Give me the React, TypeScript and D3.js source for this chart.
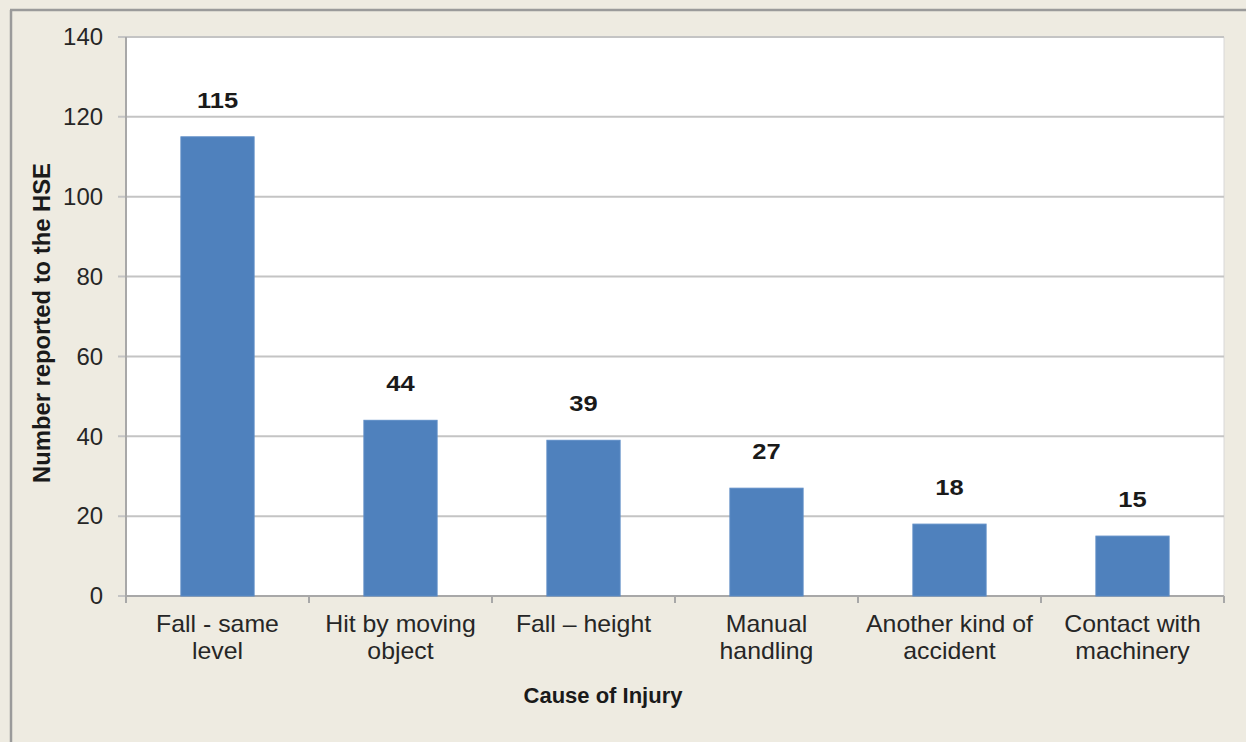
import React from "react";
import * as d3 from "d3";

const categories = [
  ["Fall - same", "level"],
  ["Hit by moving", "object"],
  ["Fall – height"],
  ["Manual", "handling"],
  ["Another kind of", "accident"],
  ["Contact with", "machinery"],
];
const values = [115, 44, 39, 27, 18, 15];
const yTicks = [0, 20, 40, 60, 80, 100, 120, 140];
const yTitle = "Number reported to the HSE";
const xTitle = "Cause of Injury";

export default function App() {
  const W = 1246, H = 742;
  const left = 126, right = 1224, top = 37, bottom = 596;
  const keys = categories.map((_, i) => String(i));
  const x = d3.scaleBand().domain(keys).range([left, right]).paddingInner(0.6).paddingOuter(0.3);
  const step = (right - left) / categories.length;
  const y = d3.scaleLinear().domain([0, 140]).range([bottom, top]);
  const font = "Arial, 'Liberation Sans', sans-serif";
  return (
    <svg width={W} height={H} style={{ position: "absolute", left: 0, top: 0 }}>
      <rect x={0} y={0} width={W} height={H} fill="#EEEBE1" />
      <line x1={10} y1={10} x2={W} y2={10} stroke="#9a9a9a" strokeWidth={2.5} />
      <line x1={11} y1={10} x2={11} y2={H} stroke="#9a9a9a" strokeWidth={2.5} />
      <rect x={left} y={top} width={right - left} height={bottom - top} fill="#FFFFFF" />
      <line x1={right} y1={top} x2={right} y2={bottom} stroke="#d8d8d8" strokeWidth={1} />
      {yTicks.map((t) => (
        <g key={t}>
          <line x1={left - 8} x2={right} y1={y(t)} y2={y(t)} stroke="#c4c4c4" strokeWidth={2} />
          <g transform={`translate(103, ${y(t)}) scale(1.04, 1)`}>
            <text x={0} y={0} dy="0.36em" textAnchor="end" fontFamily={font} fontSize={23} fill="#262626">
              {t}
            </text>
          </g>
        </g>
      ))}
      <line x1={left} x2={left} y1={top} y2={bottom + 6} stroke="#a8a8a8" strokeWidth={2} />
      <line x1={left} x2={right} y1={bottom} y2={bottom} stroke="#a8a8a8" strokeWidth={2} />
      {d3.range(categories.length + 1).map((i) => (
        <line key={i} x1={left + i * step} x2={left + i * step} y1={bottom} y2={bottom + 7} stroke="#a8a8a8" strokeWidth={2} />
      ))}
      {values.map((v, i) => {
        const bx = x(String(i))!;
        const bw = x.bandwidth();
        return (
          <g key={i}>
            <rect x={bx} y={y(v)} width={bw} height={bottom - y(v)} fill="#4F81BD" stroke="#5d8cc6" strokeWidth={1} />
            <g transform={`translate(${bx + bw / 2}, ${y(v) - 29}) scale(1.16, 1)`}>
              <text x={0} y={0} textAnchor="middle" fontFamily={font} fontWeight="bold" fontSize={22} fill="#1a1a1a">
                {v}
              </text>
            </g>
          </g>
        );
      })}
      {categories.map((lines, i) => (
        <g key={i} transform={`translate(${x(String(i))! + x.bandwidth() / 2}, 632) scale(1.08, 1)`}>
          <text textAnchor="middle" fontFamily={font} fontSize={23} fill="#262626">
            {lines.map((l, j) => (
              <tspan key={j} x={0} y={j * 27}>
                {l}
              </tspan>
            ))}
          </text>
        </g>
      ))}
      <text x={603} y={703} textAnchor="middle" fontFamily={font} fontWeight="bold" fontSize={22} fill="#1a1a1a">
        {xTitle}
      </text>
      <text transform={`translate(50, 323) rotate(-90)`} textAnchor="middle" fontFamily={font} fontWeight="bold" fontSize={23} textLength={320} lengthAdjust="spacingAndGlyphs" fill="#1a1a1a">
        {yTitle}
      </text>
    </svg>
  );
}
